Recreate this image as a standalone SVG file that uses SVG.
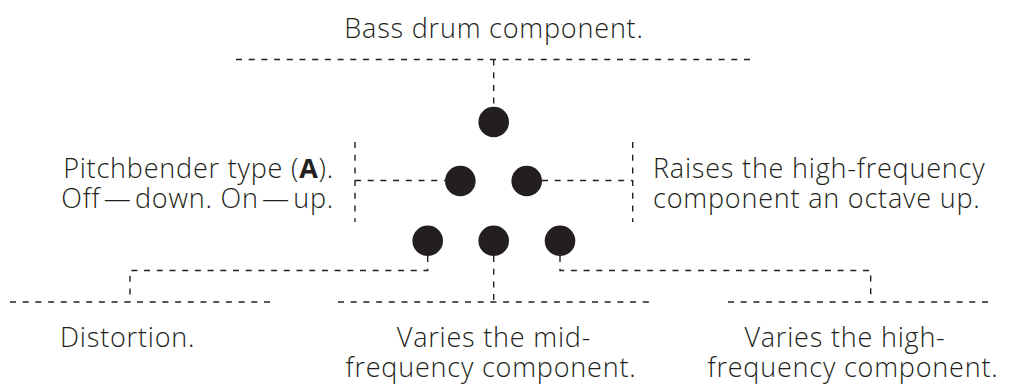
<svg xmlns="http://www.w3.org/2000/svg" width="1020" height="385" viewBox="0 0 1020 385">
<style>
.t{font-family:"Open Sans","Liberation Sans",sans-serif;font-size:27px;font-weight:300;fill:#231f20;letter-spacing:0.8px}
.b{font-weight:700}
.n{word-spacing:-4.5px}
.c{stroke:#231f20;stroke-width:1.4;fill:none;stroke-dasharray:6 6.7}
.d{fill:#231f20}
</style>
<rect width="1020" height="385" fill="#fff"/>
<g id="connectors">
<line class="c" x1="236" y1="59.5" x2="752" y2="59.5"/>
<line class="c" x1="493.7" y1="59.5" x2="493.7" y2="106"/>
<line class="c" x1="355" y1="142" x2="355" y2="222"/>
<line class="c" x1="355" y1="180.5" x2="445" y2="180.5"/>
<line class="c" x1="632.7" y1="142" x2="632.7" y2="222"/>
<line class="c" x1="542" y1="180.5" x2="632.7" y2="180.5"/>
<polyline class="c" points="427.7,256 427.7,270.5 130,270.5 130,302"/>
<line class="c" x1="10" y1="302" x2="273" y2="302"/>
<line class="c" x1="493.7" y1="256" x2="493.7" y2="302"/>
<line class="c" x1="338" y1="302" x2="650" y2="302"/>
<polyline class="c" points="560,256 560,270.5 870.7,270.5 870.7,302"/>
<line class="c" x1="728" y1="302" x2="988" y2="302"/>
</g>
<g id="knob-bass"><circle class="d" cx="493.7" cy="122" r="15.3"/></g>
<g id="knob-pitch"><circle class="d" cx="460.3" cy="181" r="15.3"/></g>
<g id="knob-octave"><circle class="d" cx="526.7" cy="181" r="15.3"/></g>
<g id="knob-dist"><circle class="d" cx="427.7" cy="240.7" r="15.3"/></g>
<g id="knob-mid"><circle class="d" cx="493.7" cy="240.7" r="15.3"/></g>
<g id="knob-high"><circle class="d" cx="560" cy="240.7" r="15.3"/></g>
<g id="label-bass"><text class="t" x="494" y="38" text-anchor="middle">Bass drum component.</text></g>
<g id="label-pitch"><text class="t" x="334" y="178" text-anchor="end">Pitchbender type (<tspan class="b">A</tspan>).</text>
<text class="t" x="334" y="208" text-anchor="end">Off<tspan class="n"> — </tspan>down. On<tspan class="n"> — </tspan>up.</text></g>
<g id="label-octave"><text class="t" x="653" y="178">Raises the high-frequency</text>
<text class="t" x="653" y="208">component an octave up.</text></g>
<g id="label-dist"><text class="t" x="60" y="347">Distortion.</text></g>
<g id="label-mid"><text class="t" x="494" y="347" text-anchor="middle">Varies the mid-</text>
<text class="t" x="491" y="377" text-anchor="middle">frequency component.</text></g>
<g id="label-high"><text class="t" x="845" y="347" text-anchor="middle">Varies the high-</text>
<text class="t" x="853" y="377" text-anchor="middle">frequency component.</text></g>
</svg>
